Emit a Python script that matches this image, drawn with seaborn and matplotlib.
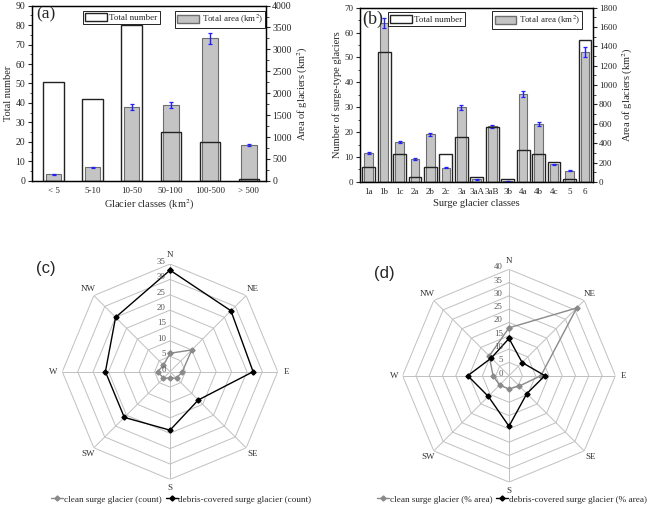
import numpy as np
import matplotlib
matplotlib.use("Agg")
import matplotlib.pyplot as plt
from matplotlib.patches import Patch
from matplotlib.lines import Line2D
from matplotlib.ticker import MultipleLocator
import seaborn as sns

# ---------------- data ----------------
classes_a = ["< 5", "5-10", "10-50", "50-100", "100-500", "> 500"]
number_a = [51, 42, 80, 25, 20, 1]
area_a = [150, 305, 1680, 1730, 3250, 815]
area_err_a = [12, 12, 65, 65, 120, 30]

classes_b = ["1a", "1b", "1c", "2a", "2b", "2c", "3a", "3aA", "3aB", "3b",
             "4a", "4b", "4c", "5", "6"]
number_b = [6, 52, 11, 2, 6, 11, 18, 2, 22, 1, 13, 11, 8, 1, 57]
area_b = [300, 1640, 415, 235, 490, 145, 770, 25, 575, 10, 905, 600, 180, 115, 1340]
area_err_b = [10, 50, 12, 8, 15, 5, 25, 2, 15, 2, 30, 20, 5, 3, 50]

directions = ["N", "NE", "E", "SE", "S", "SW", "W", "NW"]
clean_count = [6, 10, 4, 3, 2, 3, 4, 3]
debris_count = [33, 28, 27, 13, 19, 21, 21, 25]
clean_area = [18, 36, 12, 5.5, 5, 5, 6, 10.5]
debris_area = [14, 7, 13.5, 9.5, 19, 11, 15.5, 9.4]

count_ticks = [0, 5, 10, 15, 20, 25, 30, 35]
area_ticks = [0, 5, 10, 15, 20, 25, 30, 35, 40]

# ---------------- style ----------------
sns.set_style("white")
plt.rcParams["font.family"] = ["Liberation Serif", "DejaVu Serif"]
plt.rcParams["mathtext.fontset"] = "stix"
plt.rcParams["axes.linewidth"] = 0.9

fig = plt.figure(figsize=(6.6, 5.08), dpi=100)

NUM_EDGE = "#222222"
GREY_FACE = "#c4c4c4"
GREY_EDGE = "#6e6e6e"


def bar_panel(rect, cats, num, area, err, num_w, area_w, ylim_l, ystep_l,
              ylim_r, ystep_r, xlim, ylabel_l, xlabel, panel, panel_xy,
              panel_size, leg1_anchor, leg2_anchor, tick_fs, xtick_fs):
    ax = fig.add_axes(rect)
    ax2 = ax.twinx()
    # grey area bars (right axis)
    sns.barplot(x=cats, y=area, ax=ax2, color=GREY_FACE, edgecolor=GREY_EDGE,
                linewidth=0.8, width=area_w, saturation=1, errorbar=None,
                zorder=2)
    ax2.errorbar(np.arange(len(cats)), area, yerr=err, fmt="none",
                 ecolor="#1f1fff", elinewidth=1.0, capsize=1.6, capthick=0.9,
                 zorder=3)
    # hollow number bars (left axis) drawn on top
    sns.barplot(x=cats, y=num, ax=ax, color=NUM_EDGE, fill=False,
                linewidth=1.0, width=num_w, errorbar=None, zorder=4)
    ax.set_zorder(ax2.get_zorder() + 1)
    ax.patch.set_visible(False)

    ax.set_xlim(*xlim)
    ax.set_ylim(*ylim_l)
    ax2.set_ylim(*ylim_r)
    ax.yaxis.set_major_locator(MultipleLocator(ystep_l))
    ax.yaxis.set_minor_locator(MultipleLocator(ystep_l / 2))
    ax2.yaxis.set_major_locator(MultipleLocator(ystep_r))
    ax2.yaxis.set_minor_locator(MultipleLocator(ystep_r / 2))
    for a in (ax, ax2):
        a.tick_params(axis="both", which="major", direction="out", length=3,
                      width=0.8, labelsize=tick_fs, pad=1.5)
        a.tick_params(axis="both", which="minor", direction="out", length=1.8,
                      width=0.6)
        for s in a.spines.values():
            s.set_visible(True)
            s.set_color("black")
    ax.tick_params(axis="x", labelsize=xtick_fs)
    ax.set_ylabel(ylabel_l, fontsize=7.5, labelpad=2)
    ax2.set_ylabel("Area of glaciers (km$^{2}$)", fontsize=7.5, labelpad=3)
    ax.set_xlabel(xlabel, fontsize=7.5, labelpad=2)
    ax.text(panel_xy[0], panel_xy[1], panel, transform=ax.transAxes,
            fontsize=panel_size, ha="left", va="center")

    h1 = Patch(facecolor="white", edgecolor=NUM_EDGE, linewidth=1.0)
    h2 = Patch(facecolor=GREY_FACE, edgecolor=GREY_EDGE, linewidth=1.0)
    common = dict(fontsize=6.5, frameon=True, fancybox=False, framealpha=1,
                  edgecolor="black", borderpad=0.25, handlelength=2.4,
                  handleheight=1.0, handletextpad=0.3, borderaxespad=0)
    l1 = ax.legend([h1], ["Total number"], loc="upper left",
                   bbox_to_anchor=leg1_anchor, **common)
    l1.get_frame().set_linewidth(0.6)
    ax.add_artist(l1)
    l2 = ax.legend([h2], ["Total area (km$^{2}$)"], loc="upper right",
                   bbox_to_anchor=leg2_anchor, **common)
    l2.get_frame().set_linewidth(0.6)
    return ax, ax2


# panel (a)
bar_panel([0.048, 0.644, 0.355, 0.345], classes_a, number_a, area_a,
          area_err_a, 0.52, 0.40, (0, 90), 10, (0, 4000), 500, (-0.56, 5.44),
          "Total number", "Glacier classes (km$^{2}$)", "(a)", (0.02, 0.947),
          12.5, (0.218, 0.97), (0.996, 0.97), 7, 6.5)

# panel (b)
bar_panel([0.545, 0.642, 0.353, 0.343], classes_b, number_b, area_b,
          area_err_b, 0.83, 0.56, (0, 70), 10, (0, 1800), 200, (-0.58, 14.5),
          "Number of surge-type glaciers", "Surge glacier classes", "(b)",
          (0.012, 0.935), 13, (0.12, 0.973), (0.956, 0.979), 6.5, 6.5)


# ---------------- radar panels ----------------
def radar(rect, clean, debris, ticks, lab_clean, lab_debris, panel,
          panel_pos, leg_center, lab_off):
    ax = fig.add_axes(rect, projection="polar")
    ax.set_theta_zero_location("N")
    ax.set_theta_direction(-1)
    rmax = ticks[-1]
    ax.set_ylim(0, rmax)
    ax.grid(False)
    ax.set_xticks([])
    ax.set_yticks([])
    ax.spines["polar"].set_visible(False)
    ax.patch.set_visible(False)

    ang = np.deg2rad(np.arange(len(directions)) * 45.0)
    ang_c = np.append(ang, ang[0])
    # octagonal grid
    for t in ticks[1:]:
        ax.plot(ang_c, np.full(len(ang_c), t), color="#c0c0c0", lw=0.7,
                zorder=1)
    for a in ang:
        ax.plot([a, a], [0, rmax], color="#c0c0c0", lw=0.7, zorder=1)
    # data
    ax.plot(ang_c, np.append(clean, clean[0]), color="#8a8a8a", lw=1.0,
            marker="D", ms=2.6, zorder=3)
    ax.plot(ang_c, np.append(debris, debris[0]), color="black", lw=1.0,
            marker="D", ms=2.6, zorder=4)
    # direction labels
    for a, d in zip(ang, directions):
        ax.text(a, rmax * 1.08, d, ha="center", va="center", fontsize=6.5,
                color="#333333")
    # radial tick labels
    for t in ticks:
        ax.annotate(str(t), xy=(0, t), xytext=(-lab_off, 1.5),
                    textcoords="offset points", ha="right", va="center",
                    fontsize=6.3, color="#555555", zorder=5)
    fig.text(panel_pos[0], panel_pos[1], panel, fontsize=12,
             family=["Liberation Sans", "DejaVu Sans"], ha="left",
             va="center")
    hc = Line2D([], [], color="#8a8a8a", lw=1.0, marker="D", ms=2.6)
    hd = Line2D([], [], color="black", lw=1.0, marker="D", ms=2.6)
    ax.legend([hc, hd], [lab_clean, lab_debris], loc="center",
              bbox_to_anchor=leg_center, bbox_transform=fig.transFigure,
              ncol=2, frameon=False, fontsize=6.6, handlelength=1.3,
              handletextpad=0.1, columnspacing=0.4, borderpad=0)
    return ax


radar([0.0944, 0.0563, 0.3264, 0.424], clean_count, debris_count,
      count_ticks, "clean surge glacier (count)",
      "debris-covered surge glacier (count)", "(c)", (0.0545, 0.472),
      (0.275, 0.017), 3.0)

radar([0.610, 0.051, 0.3224, 0.4189], clean_area, debris_area,
      area_ticks, "clean surge glacier (% area)",
      "debris-covered surge glacier (% area)", "(d)", (0.567, 0.462),
      (0.776, 0.017), 4.5)

fig.savefig("out.png", dpi=100)
